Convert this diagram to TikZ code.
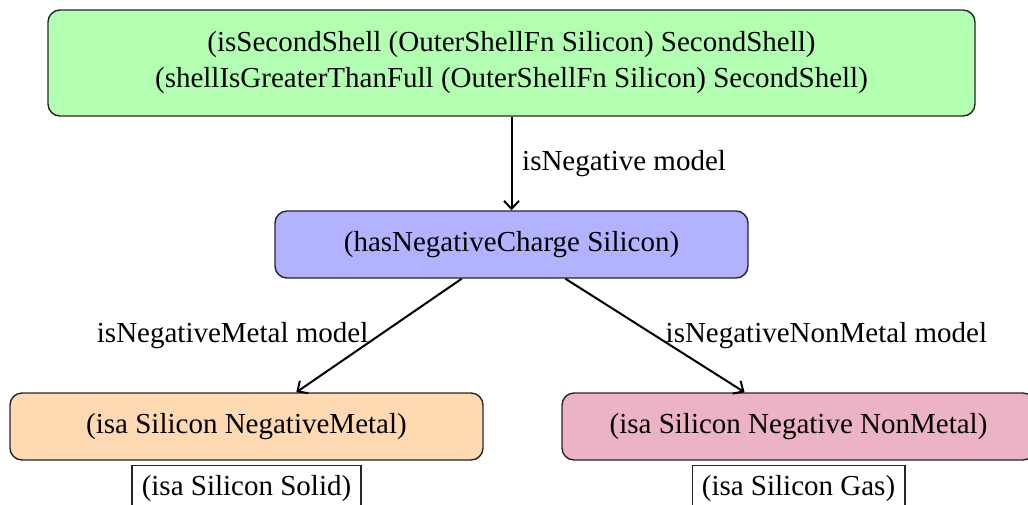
\documentclass[tikz,border=0pt]{standalone}
\usepackage{fontspec}
\setmainfont{Liberation Serif}
\usetikzlibrary{arrows.meta}
\begin{document}
\begin{tikzpicture}[x=1pt,y=-1pt,
  font=\fontsize{29}{36}\selectfont,
  box/.style={draw=black!85, line width=1.4pt, rounded corners=12pt, align=center,
    minimum width=473pt, minimum height=67pt, inner sep=0pt},
  subbox/.style={draw=black!85, line width=1.3pt, inner sep=9.7pt, anchor=north},
  link/.style={-{Straight Barb[length=8pt,width=15pt,line width=2pt]}, line width=2pt},
  lbl/.style={inner sep=9.7pt}]
\useasboundingbox (0,0) rectangle (1028,504);

\node[box, fill=green!30, minimum width=927pt, minimum height=106pt] (shell) at (511.5,63)
  {(isSecondShell (OuterShellFn Silicon) SecondShell)\\
   (shellIsGreaterThanFull (OuterShellFn Silicon) SecondShell)};
\node[box, fill=blue!30] (charge) at (511.5,244.5) {(hasNegativeCharge Silicon)};
\node[box, fill=orange!30] (metal) at (246.5,426.5) {(isa Silicon NegativeMetal)};
\node[box, fill=purple!30] (nonmetal) at (798.5,426.5) {(isa Silicon Negative NonMetal)};

\node[subbox] (solid) at ([yshift=-4pt]metal.south) {(isa Silicon Solid)};
\node[subbox] (gas) at ([yshift=-4pt]nonmetal.south) {(isa Silicon Gas)};

\draw[link] (shell) -- node[lbl, right] {isNegative model} (charge);
\draw[link] (charge) -- node[lbl, left] {isNegativeMetal model} (metal);
\draw[link] (charge) -- node[lbl, right] {isNegativeNonMetal model} (nonmetal);
\end{tikzpicture}
\end{document}
